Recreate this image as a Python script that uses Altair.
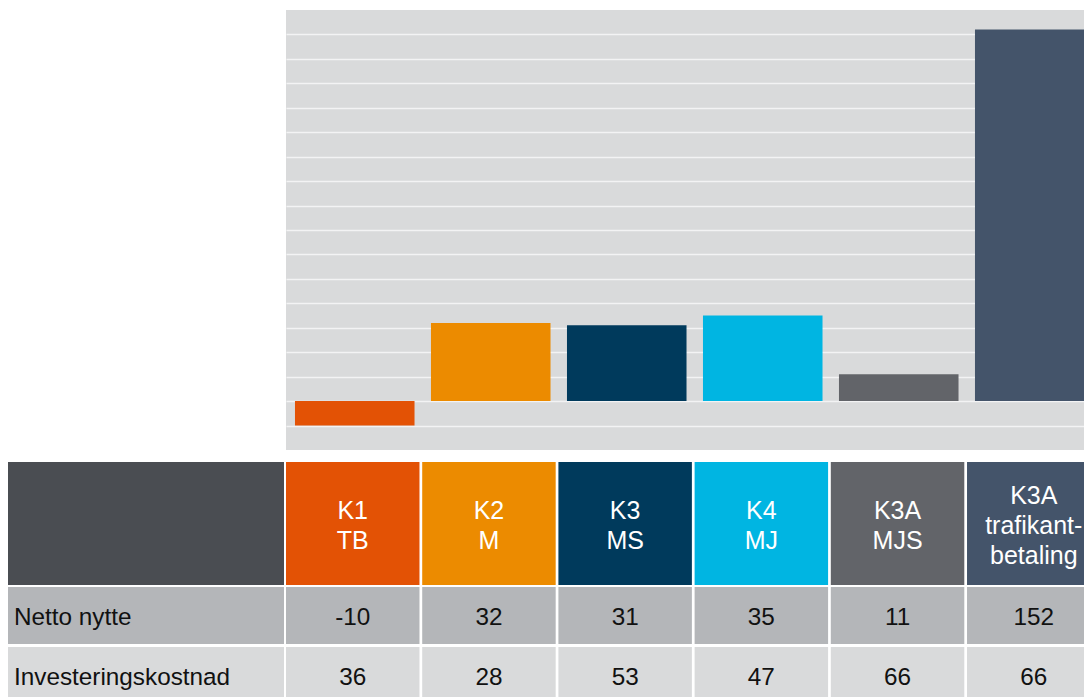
import altair as alt
import pandas as pd

# ---- data ----
categories = ["K1 TB", "K2 M", "K3 MS", "K4 MJ", "K3A MJS", "K3A trafikantbetaling"]
header_labels = ["K1\nTB", "K2\nM", "K3\nMS", "K4\nMJ", "K3A\nMJS", "K3A\ntrafikant-\nbetaling"]
netto_nytte = [-10, 32, 31, 35, 11, 152]
investeringskostnad = [36, 28, 53, 47, 66, 66]
row_labels = ["Netto nytte", "Investeringskostnad"]
grid_values = [-10, 0, 10, 20, 30, 40, 50, 60, 70, 80, 90, 100, 110, 120, 130, 140, 150]

# ---- styles ----
bar_colors = ["#e35205", "#ec8b00", "#003a5c", "#00b5e2", "#626469", "#44546a"]
row_fills = ["#b4b6b9", "#d9dadb"]
header_left_fill = "#4a4d52"
plot_bg = "#d9dadb"
FONT = "Liberation Sans"
LH = 30
PANEL_W = 798

bars_df = pd.DataFrame({"cat": categories, "value": netto_nytte, "fill": bar_colors})
hdr_df = pd.DataFrame({"cat": categories, "label": header_labels, "fill": bar_colors,
                       "nlines": [lbl.count("\n") + 1 for lbl in header_labels]})
rows_df = pd.DataFrame({"row": row_labels, "fill": row_fills})
cells_rows = []
for r, vals, f in zip(row_labels, [netto_nytte, investeringskostnad], row_fills):
    for c, v in zip(categories, vals):
        cells_rows.append({"cat": c, "row": r, "txt": str(v), "fill": f})
cells_df = pd.DataFrame(cells_rows)

# ---- bar chart (top row) ----
spacer = alt.Chart(pd.DataFrame({"a": [0]})).mark_text().encode(
    text=alt.value("")).properties(width=276, height=440)

bars = alt.Chart(bars_df).mark_bar(clip=True).encode(
    x=alt.X("cat:N", sort=categories, axis=None,
            scale=alt.Scale(domain=categories, range=[0, 817.5],
                            paddingInner=0.121, paddingOuter=0.066)),
    y=alt.Y("value:Q",
            scale=alt.Scale(domain=[-20, 160], nice=False, zero=False),
            axis=alt.Axis(values=grid_values, labels=False, ticks=False, domain=False,
                          title=None, grid=True, gridColor="#f3f3f4", gridWidth=1.5,
                          minExtent=0, maxExtent=0)),
    color=alt.Color("fill:N", scale=None),
).properties(width=PANEL_W, height=440,
             view=alt.ViewBackground(fill=plot_bg, stroke=None))

top = alt.hconcat(spacer, bars, spacing=2)

# ---- table: header row ----
hdr_left = alt.Chart(pd.DataFrame({"a": [0]})).mark_rect(color=header_left_fill).properties(
    width=276, height=123)

hdr_base = alt.Chart(hdr_df).encode(
    x=alt.X("cat:N", sort=categories, axis=None,
            scale=alt.Scale(domain=categories, range=[0, 814.5],
                            paddingInner=0.02, paddingOuter=0)))
hdr_text_layers = [
    hdr_base.transform_filter(alt.datum.nlines == n).mark_text(
        clip=True, color="white", font=FONT, fontSize=25, lineHeight=LH,
        lineBreak="\n", dy=-(n - 1) * LH / 2 + 2).encode(text="label:N")
    for n in sorted(set(hdr_df["nlines"]))
]
hdr_cells = alt.layer(
    hdr_base.mark_rect(clip=True).encode(color=alt.Color("fill:N", scale=None)),
    *hdr_text_layers,
).properties(width=PANEL_W, height=123)

header = alt.hconcat(hdr_left, hdr_cells, spacing=2)

# ---- table: data rows ----
y_rows = alt.Y("row:N", sort=row_labels, axis=None,
               scale=alt.Scale(domain=row_labels, range=[0, 117],
                               paddingInner=0.05, paddingOuter=0))
lab_base = alt.Chart(rows_df).encode(y=y_rows)
row_labels_chart = alt.layer(
    lab_base.mark_rect(clip=True).encode(color=alt.Color("fill:N", scale=None)),
    lab_base.mark_text(clip=True, align="left", color="#111111", font=FONT,
                       fontSize=24.3, dy=2).encode(x=alt.value(6), text="row:N"),
).properties(width=276, height=110)

cell_base = alt.Chart(cells_df).encode(
    x=alt.X("cat:N", sort=categories, axis=None,
            scale=alt.Scale(domain=categories, range=[0, 814.5],
                            paddingInner=0.02, paddingOuter=0)),
    y=y_rows)
row_cells = alt.layer(
    cell_base.mark_rect(clip=True).encode(color=alt.Color("fill:N", scale=None)),
    cell_base.mark_text(clip=True, color="#111111", font=FONT,
                        fontSize=24.3, dy=2).encode(text="txt:N"),
).properties(width=PANEL_W, height=110)

rows = alt.hconcat(row_labels_chart, row_cells, spacing=2)

table = alt.vconcat(header, rows, spacing=2)

chart = alt.vconcat(top, table, spacing=12).properties(
    padding={"left": 0, "top": 2, "right": 0, "bottom": 0}
).configure_view(stroke=None)

chart.save("out.html", embed_options={"renderer": "svg", "actions": False})
